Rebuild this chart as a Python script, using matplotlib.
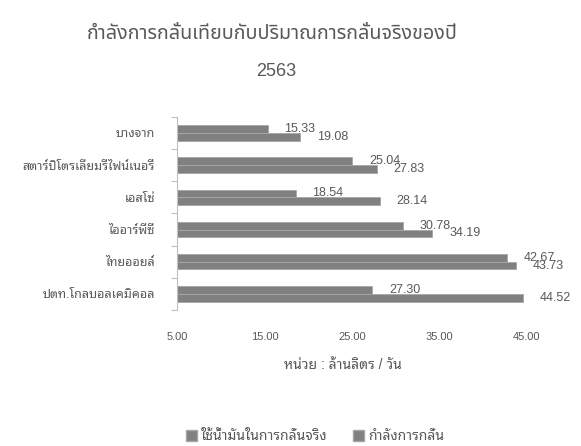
import matplotlib
matplotlib.use('Agg')
import matplotlib.pyplot as plt
import numpy as np
from matplotlib.patches import Patch

plt.rcParams['font.family'] = ['Liberation Sans', 'Noto Sans Thai Looped', 'DejaVu Sans']
title_font = ['Liberation Sans', 'Noto Sans Thai', 'DejaVu Sans']

refineries = ['ปตท.โกลบอลเคมิคอล', 'ไทยออยล์', 'ไออาร์พีซี', 'เอสโซ่',
              'สตาร์ปิโตรเลียมรีไฟน์เนอรี่', 'บางจาก']
actual = [27.30, 42.67, 30.78, 18.54, 25.04, 15.33]
capacity = [44.52, 43.73, 34.19, 28.14, 27.83, 19.08]
x_ticks = [5, 15, 25, 35, 45]

title_1 = 'กำลังการกลั่นเทียบกับปริมาณการกลั่นจริงของปี'
title_2 = '2563'
unit_label = 'หน่วย : ล้านลิตร / วัน'
legend_labels = ['ใช้น้ำมันในการกลั่นจริง', 'กำลังการกลั่น']

txt = '#595959'
bar_c = '#808080'
edge_c = '#a6a6a6'

fig = plt.figure(figsize=(5.81, 4.46), dpi=100)
ax = fig.add_axes([0.305, 0.305, 0.602, 0.433])

y = np.arange(len(refineries))
h = 0.24
ax.barh(y + h / 2, np.array(actual) - 5, left=5, height=h, color=bar_c,
        edgecolor=edge_c, linewidth=0.6)
ax.barh(y - h / 2, np.array(capacity) - 5, left=5, height=h, color=bar_c,
        edgecolor=edge_c, linewidth=0.6)

for yi, v in zip(y, actual):
    ax.annotate('%.2f' % v, (v, yi + h / 2), xytext=(12, 0), textcoords='offset points',
                va='center', ha='left', fontsize=9, color=txt, annotation_clip=False)
for yi, v in zip(y, capacity):
    ax.annotate('%.2f' % v, (v, yi - h / 2), xytext=(12, 0), textcoords='offset points',
                va='center', ha='left', fontsize=9, color=txt, annotation_clip=False)

ax.set_xlim(5, 45)
ax.set_ylim(-0.5, len(refineries) - 0.5)
ax.set_xticks(x_ticks)
ax.set_xticklabels(['%.2f' % t for t in x_ticks])
ax.set_yticks(y)
ax.set_yticklabels(refineries)
ax.set_yticks(np.arange(-0.5, len(refineries)), minor=True)
ax.tick_params(axis='y', which='major', length=0, pad=16, labelsize=9, labelcolor=txt)
ax.tick_params(axis='y', which='minor', length=4, color='#bfbfbf', width=0.8)
ax.tick_params(axis='x', length=0, pad=16, labelsize=8, labelcolor=txt)
for s in ['top', 'right', 'bottom']:
    ax.spines[s].set_visible(False)
ax.spines['left'].set_color('#bfbfbf')
ax.spines['left'].set_linewidth(0.8)

fig.text(0.468, 0.926, title_1, ha='center', va='center', fontsize=14.2, color=txt,
         family=title_font)
fig.text(0.475, 0.839, title_2, ha='center', va='center', fontsize=13, color=txt)
fig.text(0.591, 0.182, unit_label, ha='center', va='center', fontsize=10, color=txt)

handles = [Patch(facecolor=bar_c, edgecolor=edge_c), Patch(facecolor=bar_c, edgecolor=edge_c)]
fig.legend(handles, legend_labels, loc='center', bbox_to_anchor=(0.542, 0.022), ncol=2,
           frameon=False, fontsize=10, labelcolor=txt, handlelength=0.8, handleheight=0.8,
           handletextpad=0.25, columnspacing=1.9)

fig.savefig('out.png')
